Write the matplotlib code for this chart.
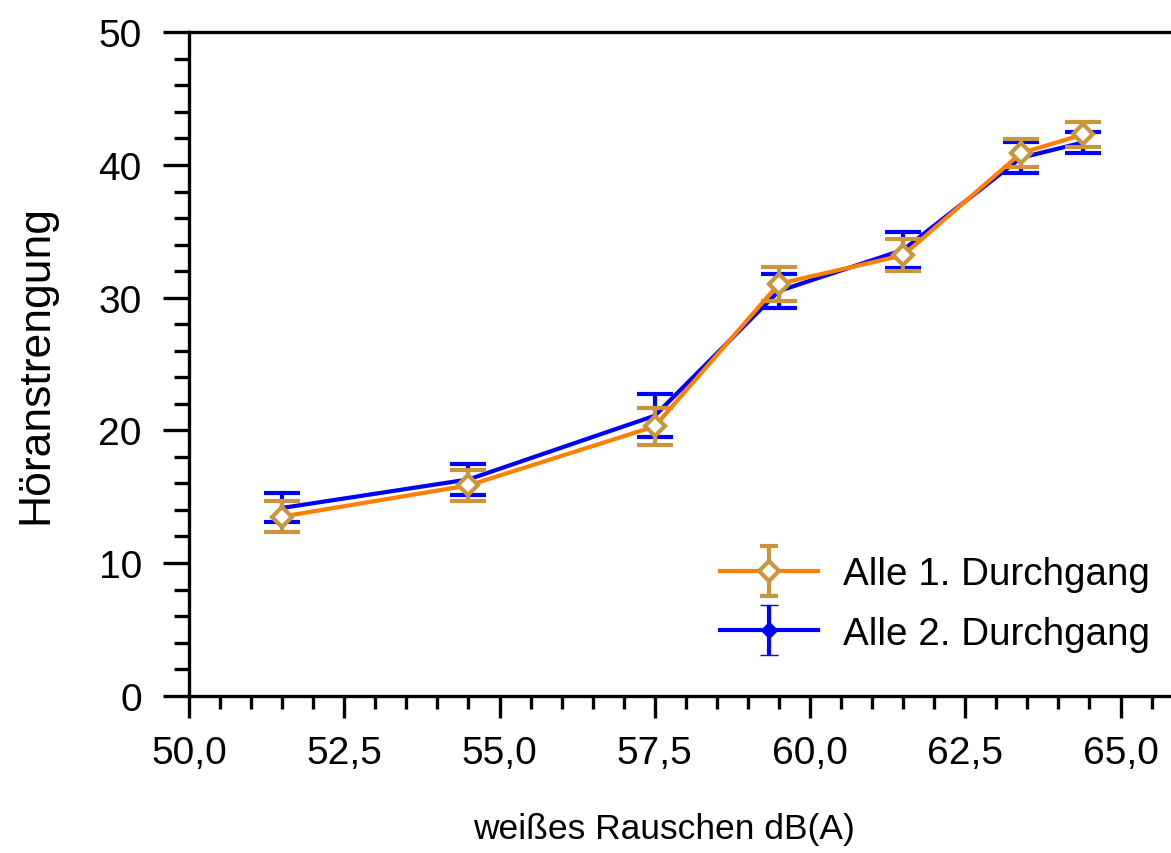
import matplotlib
matplotlib.use("Agg")
import numpy as np
import matplotlib.pyplot as plt
from matplotlib.ticker import MultipleLocator, FuncFormatter
from matplotlib.container import ErrorbarContainer
from matplotlib.legend_handler import HandlerErrorbar

plt.rcParams['font.family'] = ['Liberation Sans', 'DejaVu Sans']

# Schallpegel weißes Rauschen in dB(A)
schall = [51.5, 54.5, 57.5, 59.5, 61.5, 63.4, 64.4]

# Höranstrengung, Mittelwerte und Fehler
durchgang1 = [13.5, 15.85, 20.3, 31.05, 33.2, 40.9, 42.3]
fehler1 = [1.14, 1.15, 1.38, 1.28, 1.2, 1.04, 0.96]
durchgang2 = [14.15, 16.3, 21.1, 30.5, 33.6, 40.55, 41.7]
fehler2 = [1.09, 1.17, 1.62, 1.29, 1.36, 1.19, 0.79]

labels = ["Alle 1. Durchgang", "Alle 2. Durchgang"]

orange = '#FF8000'
gold = '#C8963E'
blau = '#0000FF'
lw = 3.0

W, H = 1171, 854
fig = plt.figure(figsize=(W / 100, H / 100), dpi=100)
ax = fig.add_axes([189 / W, 1 - 696.7 / H, (W - 189) / W, (696.7 - 33.3) / H])

ax.errorbar(schall, durchgang2, yerr=fehler2, color=blau, lw=lw,
            elinewidth=lw, capsize=13, capthick=lw, zorder=2)
ax.errorbar(schall, durchgang1, yerr=fehler1, color=orange, ecolor=gold,
            lw=lw, elinewidth=lw, capsize=13, capthick=lw,
            marker='D', ms=10.5, mfc='white', mec=gold, mew=lw, zorder=3)

# Legendeneinträge mit Symbolen (nicht sichtbar im Diagramm)
h1 = ax.errorbar([np.nan], [np.nan], yerr=[1], color=orange, ecolor=gold, lw=lw,
                 elinewidth=lw, capsize=6.5, capthick=lw,
                 marker='D', ms=10.5, mfc='white', mec=gold, mew=lw)
h2 = ax.errorbar([np.nan], [np.nan], yerr=[1], color=blau, lw=lw,
                 elinewidth=lw, capsize=6.5, capthick=lw,
                 marker='D', ms=8, mfc=blau, mec=blau, mew=1)

ax.set_xlim(50, 50 + (W - 189) / 62.1)
ax.set_ylim(0, 50)

ax.xaxis.set_major_locator(MultipleLocator(2.5))
ax.xaxis.set_minor_locator(MultipleLocator(0.5))
ax.yaxis.set_major_locator(MultipleLocator(10))
ax.yaxis.set_minor_locator(MultipleLocator(2))
ax.xaxis.set_major_formatter(FuncFormatter(lambda v, p: f"{v:.1f}".replace('.', ',')))

ax.spines['right'].set_visible(False)
for s in ['left', 'bottom', 'top']:
    ax.spines[s].set_linewidth(2.4)

ax.tick_params(axis='both', which='major', direction='out', width=2.4,
               labelsize=28)
ax.tick_params(axis='x', which='major', length=16, pad=12)
ax.tick_params(axis='x', which='minor', length=9, width=2.4)
ax.tick_params(axis='y', which='major', length=19, pad=15)
ax.tick_params(axis='y', which='minor', length=11, width=2.4)
ax.tick_params(top=False, right=False, which='both')

ax.set_xlabel("weißes Rauschen dB(A)", fontsize=25.5)
ax.xaxis.set_label_coords((664 - 189) / (W - 189), -0.176)
ax.set_ylabel("Höranstrengung", fontsize=32)
ax.yaxis.set_label_coords(-0.135, 0.5)

ax.legend([h1, h2], labels, loc='center left', frameon=False,
          bbox_to_anchor=(720 / W, 1 - 605 / H), bbox_transform=fig.transFigure,
          fontsize=27.8, handlelength=2.54, handletextpad=0.65,
          labelspacing=0.6, borderpad=0, borderaxespad=0,
          handler_map={ErrorbarContainer: HandlerErrorbar(yerr_size=0.65)})

fig.savefig("out.png", dpi=100)
